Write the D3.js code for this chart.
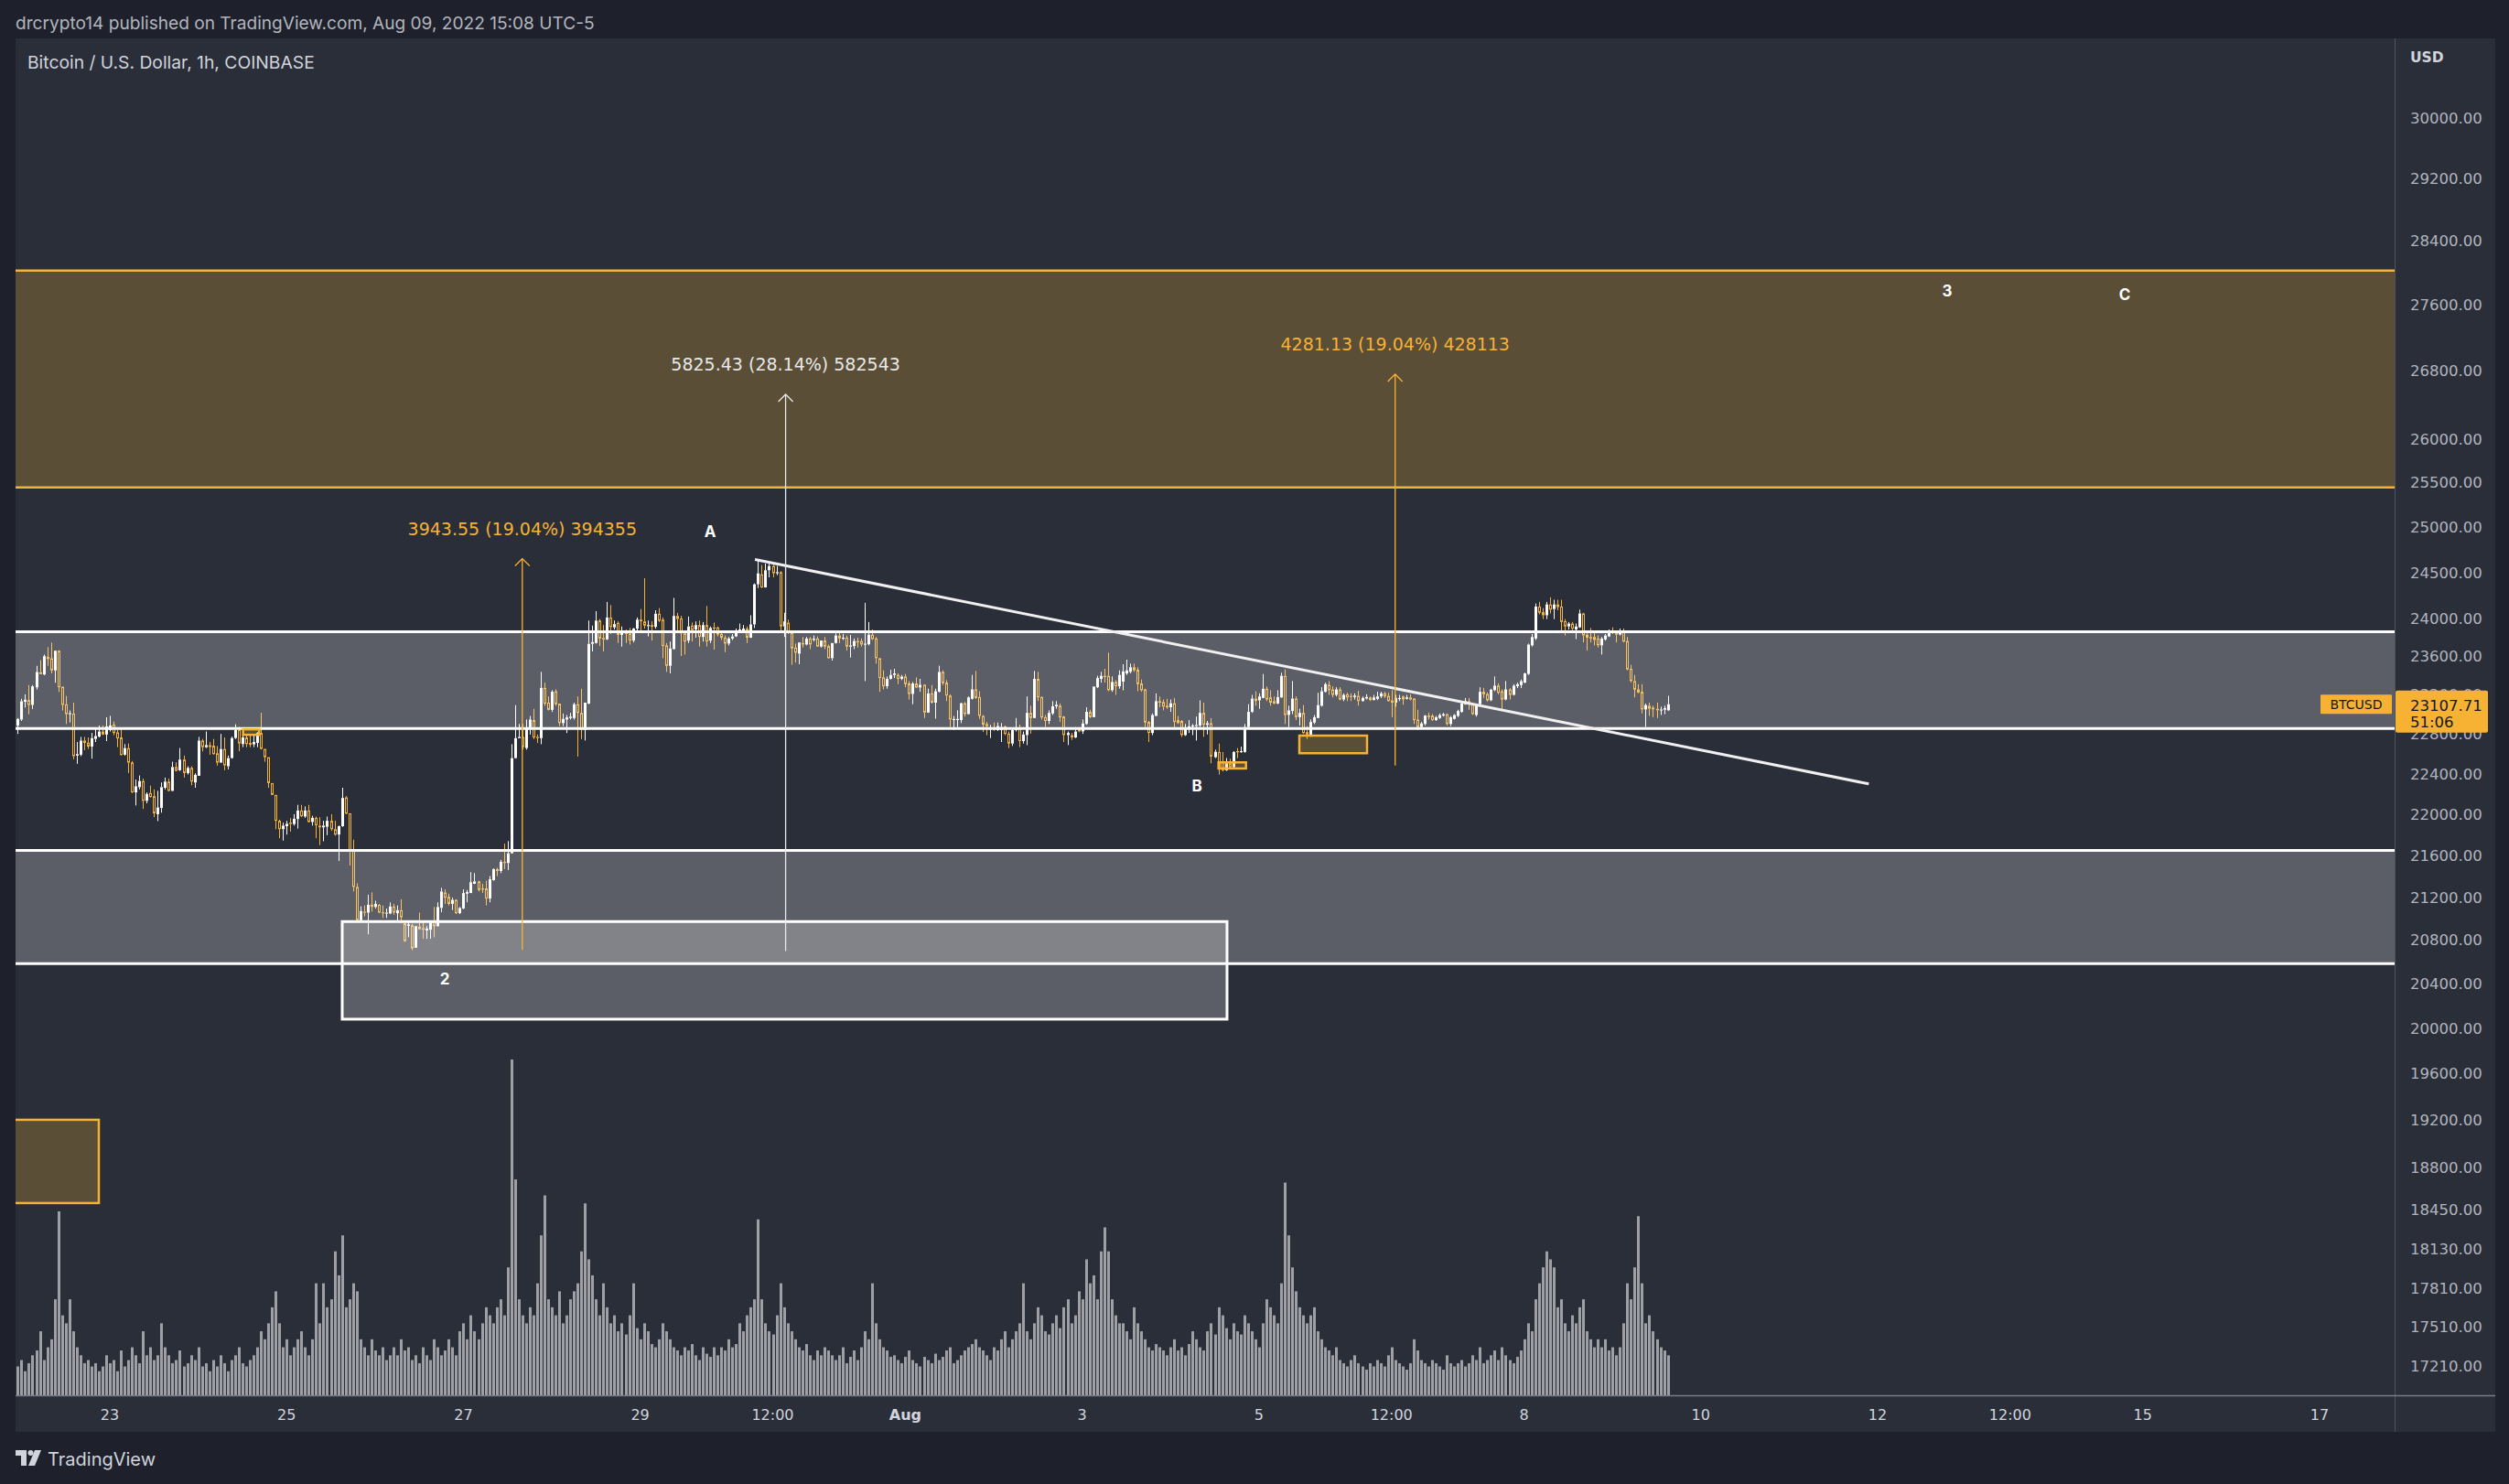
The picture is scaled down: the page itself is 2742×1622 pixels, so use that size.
<!DOCTYPE html>
<html><head><meta charset="utf-8">
<script src="https://cdn.jsdelivr.net/npm/d3@7"></script>
<style>html,body{margin:0;padding:0;background:#1e212b;}svg{display:block}</style>
</head><body>
<svg id="chart" width="2742" height="1622"></svg>
<script>
// ---------------- DATA ----------------
const firstCandle = "2022-07-21T22:00:00Z"; // hourly candles from here
const opens = [22966,22890,22951,23132,23151,23100,23282,23439,23416,23601,23585,23458,23665,23289,23107,23005,23011,22585,22594,22737,22716,22676,22753,22777,22829,22798,22844,22899,22820,22768,22594,22661,22517,22218,22270,22331,22134,22212,22181,22003,22064,22264,22325,22233,22471,22438,22545,22410,22462,22316,22383,22737,22670,22691,22685,22609,22514,22652,22478,22560,22762,22844,22701,22768,22713,22698,22713,22814,22652,22569,22310,22193,21939,21857,21886,21921,21907,21956,22040,21980,22040,21927,21968,21892,21874,21880,21939,21857,21804,21886,22169,22012,21653,21302,20989,21069,21060,21136,21113,21133,21063,21051,21051,21118,21054,21083,20960,20936,20942,20733,20928,20914,20894,20900,20983,20933,21104,21250,21209,21142,21180,21055,21099,21238,21244,21332,21355,21288,21288,21192,21367,21472,21454,21542,21530,21624,22560,22761,22774,22661,22859,22945,22774,22761,23277,23124,23050,23242,23114,22914,22951,22966,22966,23108,23019,22844,23114,23737,23746,23985,23800,23784,24018,23912,23960,23832,23880,23848,23772,23899,23995,23976,23925,23937,23918,24058,23995,23721,23506,23682,24035,24008,23848,23772,23931,23890,23937,23810,23937,23772,23912,23912,23842,23803,23740,23794,23816,23874,23880,23899,23803,23944,24375,24485,24341,24528,24575,24495,24508,23922,23963,23858,23698,23634,23746,23730,23794,23778,23794,23708,23772,23714,23586,23746,23826,23794,23803,23708,23714,23768,23768,23733,23733,23835,23794,23586,23386,23293,23370,23411,23411,23370,23395,23322,23213,23322,23280,23309,23022,23220,23124,23236,23443,23331,23197,22945,22945,22945,23118,23006,23163,23261,23182,22987,22905,22850,22865,22844,22844,22881,22807,22706,22844,22865,22731,22792,23019,22966,23370,23182,22975,22936,23013,23086,23093,22981,22792,22792,22768,22853,22829,22905,23029,22975,23283,23370,23402,23402,23252,23338,23293,23341,23427,23443,23491,23465,23322,23261,22926,22814,22987,23140,23131,23093,23076,23118,22945,22936,22792,22859,22881,22884,22890,23019,22896,22914,22569,22621,22529,22438,22508,22468,22630,22621,22621,22874,23029,23166,23147,23172,23268,23178,23140,23115,23178,23402,22997,23038,23166,22975,23019,22823,22792,22920,22966,23092,23236,23309,23261,23204,23261,23156,23210,23194,23182,23194,23140,23166,23178,23150,23163,23188,23220,23194,23147,23124,23163,23188,23163,23178,23166,22951,22874,22905,22991,22991,22945,22966,22991,23006,22905,22957,22987,23029,23108,23140,23115,22997,23108,23236,23213,23147,23252,23300,23242,23156,23261,23204,23293,23306,23331,23421,23721,23794,24135,24075,24041,24158,24108,24158,24135,23979,23922,23953,23890,23912,24061,23835,23810,23810,23794,23721,23784,23816,23874,23867,23835,23874,23768,23475,23347,23261,23236,23054,23092,23073,23061,23045,23051,23045];
const highs = [23027,22965,23164,23209,23305,23305,23506,23566,23624,23703,23751,23665,23670,23289,23193,23043,23123,22722,22774,22774,22768,22814,22859,22890,22890,22973,22988,22930,22844,22866,22701,22707,22530,22346,22386,22355,22218,22285,22248,22233,22316,22365,22355,22523,22517,22661,22585,22478,22478,22407,22774,22753,22829,22722,22753,22682,22804,22768,22585,22777,22902,22875,22798,22798,22798,22798,22823,23021,22652,22569,22310,22193,21950,21921,21939,21965,22003,22095,22095,22080,22095,21988,21980,21974,21939,21980,22003,21939,21892,22264,22181,22012,21755,21337,21118,21127,21229,21250,21171,21142,21127,21098,21156,21142,21127,21186,20961,20969,20955,20936,21060,20983,20933,20969,21113,21157,21294,21279,21238,21200,21186,21113,21279,21273,21443,21434,21361,21332,21361,21405,21478,21484,21560,21717,21741,22700,23098,22905,22905,22951,22987,23060,22798,23443,23331,23188,23252,23261,23114,23012,22997,23019,23124,23188,23268,23124,23985,23931,24085,24001,23937,24185,24151,23985,23976,23922,23890,23906,23906,24018,24108,24441,23985,23976,24095,24118,24018,23746,23762,24228,24068,24035,23874,24028,23963,23976,23985,23969,24141,23922,23963,23922,23880,23826,23810,23842,23899,23953,23937,23922,24041,24385,24651,24585,24601,24601,24595,24575,24518,24068,23995,23858,23740,23752,23810,23810,23810,23826,23816,23772,23810,23730,23746,23848,23858,23842,23826,23832,23794,23803,23794,24175,23969,23890,23810,23586,23459,23395,23465,23475,23427,23411,23421,23347,23338,23386,23370,23315,23268,23306,23268,23507,23459,23357,23210,22987,23045,23124,23131,23188,23411,23453,23242,22997,22926,22896,22920,22920,22914,22890,22829,22859,22966,22899,22829,23188,23093,23453,23443,23188,22997,23045,23140,23140,23115,22987,22829,22814,22874,22874,22951,23076,23051,23290,23402,23443,23475,23644,23395,23357,23459,23523,23571,23529,23529,23491,23363,23268,22936,23013,23220,23188,23156,23163,23156,23172,22987,22945,22905,22945,22905,22981,23147,23124,22936,22966,22645,22706,22621,22560,22554,22630,22661,22676,22905,23108,23204,23242,23220,23421,23290,23252,23188,23252,23434,23469,23092,23347,23188,23061,23099,22884,22951,22997,23226,23283,23331,23347,23293,23283,23283,23220,23226,23220,23220,23245,23188,23210,23188,23204,23236,23236,23236,23226,23252,23204,23204,23197,23204,23210,23172,23051,22926,22997,23022,23006,22987,23013,23019,23013,22987,23006,23051,23124,23172,23172,23124,23115,23283,23277,23229,23268,23395,23325,23261,23347,23274,23315,23331,23363,23434,23740,23842,24168,24185,24118,24185,24235,24208,24208,24208,24001,23969,23969,23953,24101,24068,23858,23906,23858,23826,23810,23842,23890,23912,23880,23899,23899,23810,23516,23411,23315,23315,23115,23124,23092,23124,23083,23092,23194];
const lows = [22859,22804,22936,23075,23005,23059,23260,23419,23407,23506,23426,23330,23234,23043,22905,22921,22548,22502,22579,22640,22652,22554,22722,22768,22792,22731,22829,22792,22670,22585,22585,22410,22212,22089,22248,22055,22110,22166,21974,21936,22018,22248,22227,22230,22426,22432,22365,22395,22288,22264,22383,22627,22661,22594,22594,22484,22514,22438,22447,22554,22753,22630,22670,22670,22670,22670,22670,22646,22523,22264,22193,21857,21769,21746,21804,21834,21892,21863,21974,21968,21921,21892,21769,21702,21740,21799,21842,21793,21550,21880,22003,21507,21259,20969,20983,21025,20858,21069,21098,21054,21010,21010,21045,21040,20969,20961,20788,20830,20710,20733,20900,20816,20816,20816,20830,20927,21063,21142,21128,21084,21046,21046,21093,21157,21244,21330,21259,21244,21128,21157,21361,21405,21434,21472,21463,21620,22555,22761,22645,22645,22798,22752,22713,22700,23092,23044,23028,23092,22884,22884,22813,22951,22951,22575,22752,22737,23108,23657,23740,23714,23657,23778,23842,23890,23746,23708,23746,23730,23752,23880,23858,23899,23816,23772,23899,23969,23586,23443,23427,23676,23858,23609,23625,23746,23762,23803,23708,23762,23708,23746,23676,23816,23778,23650,23721,23778,23810,23858,23874,23746,23800,23906,24335,24335,24340,24451,24451,24475,23874,23810,23842,23516,23539,23523,23698,23721,23682,23762,23708,23698,23682,23580,23561,23740,23746,23778,23666,23593,23682,23698,23708,23347,23721,23778,23529,23236,23261,23268,23363,23379,23315,23357,23283,23156,23108,23274,23236,22966,23019,23115,22960,23230,23306,23140,22874,22844,22874,22914,22981,23003,23156,23163,22957,22823,22792,22762,22835,22835,22722,22792,22661,22682,22829,22670,22706,22691,22807,22966,23140,22951,22874,22905,22997,23061,22926,22722,22691,22743,22762,22820,22804,22896,22966,22975,23274,23331,23331,23242,23236,23204,23268,23252,23411,23427,23443,23242,23236,22874,22722,22792,22987,23076,23045,23061,23029,22859,22905,22774,22783,22814,22792,22737,22874,22774,22798,22508,22560,22395,22426,22432,22462,22462,22560,22615,22615,22859,23019,23092,23061,23170,23140,23092,23108,23108,23172,22905,22874,23006,22945,22890,22804,22752,22774,22905,22966,23083,23229,23204,23178,23188,23147,23140,23140,23140,23156,23092,23134,23156,23140,23147,23150,23172,23172,23134,22975,23083,23140,23102,23156,23147,22905,22844,22859,22890,22951,22936,22936,22957,22981,22890,22884,22951,22975,23019,23102,23051,22997,22981,23102,23172,23134,23140,23242,23210,23051,23147,23156,23197,23274,23274,23325,23411,23708,23778,24051,24001,24001,24061,24001,24095,23880,23826,23890,23858,23788,23906,23752,23666,23752,23721,23698,23625,23772,23810,23842,23752,23826,23752,23459,23331,23178,23220,23013,22874,22987,22975,22966,22997,23006,23038];
const closes = [22890,22957,23139,23155,23100,23292,23442,23419,23608,23576,23458,23665,23282,23100,23005,23017,22579,22600,22737,22713,22676,22762,22783,22829,22798,22881,22890,22814,22759,22591,22661,22514,22218,22279,22331,22134,22203,22172,22012,22070,22270,22325,22233,22471,22432,22545,22410,22462,22325,22392,22737,22670,22691,22670,22600,22514,22652,22487,22560,22762,22844,22707,22768,22701,22695,22722,22814,22652,22569,22310,22193,21939,21857,21892,21910,21907,21959,22040,21983,22040,21927,21968,21895,21874,21892,21939,21857,21804,21886,22163,22009,21653,21302,20989,21075,21060,21133,21113,21142,21060,21054,21060,21118,21060,21083,21016,20794,20950,20727,20933,20905,20900,20911,20969,20933,21113,21259,21200,21142,21180,21055,21104,21244,21253,21347,21355,21273,21279,21192,21376,21472,21454,21542,21530,21624,22560,22761,22774,22670,22859,22951,22768,22761,23277,23114,23050,23236,23108,22914,22957,22972,22981,23108,23019,22844,23124,23737,23756,23985,23794,23784,24018,23915,23947,23832,23858,23842,23772,23899,23995,23976,23931,23937,23918,24058,23982,23714,23506,23689,24035,24001,23848,23762,23922,23883,23937,23810,23937,23762,23906,23899,23835,23803,23740,23794,23816,23880,23890,23899,23803,23944,24375,24495,24341,24528,24575,24495,24508,23922,23976,23858,23689,23644,23752,23730,23794,23730,23794,23708,23772,23708,23586,23746,23826,23794,23803,23708,23721,23768,23752,23730,23740,23835,23788,23586,23379,23293,23370,23411,23427,23370,23395,23315,23213,23322,23280,23309,23022,23220,23124,23242,23443,23325,23197,22951,22957,22957,23118,23006,23178,23261,23172,22987,22899,22884,22859,22853,22884,22874,22804,22706,22844,22859,22731,22798,23019,22966,23370,23178,22972,22936,23019,23086,23102,22972,22792,22814,22768,22829,22829,22911,23029,22975,23290,23379,23402,23389,23252,23338,23293,23411,23449,23459,23491,23459,23315,23252,22920,22814,22997,23140,23124,23083,23076,23118,22926,22914,22792,22859,22881,22890,22896,23019,22896,22914,22575,22624,22462,22438,22508,22468,22621,22621,22630,22874,23029,23166,23140,23188,23268,23156,23124,23115,23182,23402,22997,23045,23166,22975,23019,22813,22798,22926,22975,23099,23242,23315,23252,23204,23261,23156,23204,23178,23182,23197,23140,23172,23182,23150,23178,23188,23220,23188,23140,23124,23172,23172,23156,23178,23156,22945,22874,22911,22991,22975,22945,22975,22997,23006,22905,22975,22997,23038,23115,23140,23108,23006,23108,23236,23210,23147,23258,23300,23226,23156,23261,23204,23300,23315,23347,23427,23730,23810,24135,24068,24041,24158,24101,24158,24128,23969,23922,23953,23899,23922,24061,23826,23803,23794,23778,23721,23794,23826,23874,23855,23835,23874,23762,23469,23347,23258,23229,23054,23099,23061,23054,23045,23054,23067,23107.71];
const volumes = [525,630,770,525,700,875,980,1400,770,1050,1225,2100,4025,1750,1575,2100,1400,1050,875,700,770,630,700,525,630,875,700,770,525,980,630,770,1050,875,700,1400,875,1050,770,875,1575,1050,875,700,770,980,630,700,875,770,1050,630,700,525,770,630,875,700,525,770,875,1050,700,630,770,875,1050,1400,1225,1575,1925,2275,1575,1050,1225,875,1050,1225,1400,1050,875,1225,2450,1575,2450,1925,2100,3150,2625,3500,1925,2100,2450,2275,1225,1050,875,1225,980,875,1050,770,875,1050,875,1225,980,1050,770,875,700,1050,875,770,1225,1050,875,980,1225,1050,875,1400,1575,1225,1750,1400,1225,1575,1925,1750,1575,1925,2100,1750,2800,7350,4725,2100,1750,1575,1925,1750,2450,3500,4375,2100,1925,1750,2275,1575,1750,2100,2275,2450,3150,4200,2975,2625,2100,1750,2450,1925,1575,1750,1400,1575,1330,1750,2450,1470,1225,1575,1400,1120,1050,1225,1575,1400,1225,1050,980,875,1050,980,1120,875,770,1050,910,840,1050,875,1050,980,1225,1050,1120,1575,1400,1750,1925,2100,3850,2100,1575,1400,1330,1750,2450,1925,1575,1400,1225,1050,980,1120,875,770,980,875,1050,980,875,770,875,1050,700,840,980,770,1050,1400,1225,2450,1575,1225,1050,980,840,875,770,700,840,980,770,700,630,840,770,700,910,770,840,980,1050,700,770,875,980,1050,1120,1225,1050,980,875,770,1050,980,1225,1400,1050,1225,1400,1575,2450,1400,1225,1575,1925,1750,1400,1330,1575,1750,1470,1925,2100,1575,1750,2275,2100,2975,2450,2625,2100,3150,3675,3150,2100,1750,1575,1575,1400,1225,1925,1575,1400,1225,1050,980,1120,1050,980,875,1050,1225,980,1050,875,1120,1400,1225,1050,980,1400,1575,1330,1925,1750,1470,1225,1575,1400,1330,1750,1575,1400,1225,1050,1575,2100,1925,1750,1575,2450,4655,3500,2800,2275,1925,1750,1575,1750,1925,1400,1225,1050,980,875,1050,770,700,630,770,875,700,630,560,700,630,770,700,630,875,1050,770,700,630,560,700,1225,980,770,700,630,770,700,630,560,875,700,630,700,770,630,700,875,770,1050,700,770,875,980,770,1050,875,770,700,840,980,1225,1575,1400,2100,2450,2800,3150,2975,2800,1925,2100,1575,1400,1750,1575,1925,2100,1400,1225,1050,1225,1050,1225,980,1050,875,1050,1575,2450,2100,2800,3920,2450,1575,1750,1400,1225,1050,980,875];

const priceTicks = [30000,29200,28400,27600,26800,26000,25500,25000,24500,24000,23600,23200,22800,22400,22000,21600,21200,20800,20400,20000,19600,19200,18800,18450,18130,17810,17510,17210];
const timeTickDates = ["2022-07-23","2022-07-25","2022-07-27","2022-07-29","2022-07-30T12:00","2022-08-01","2022-08-03","2022-08-05","2022-08-06T12:00","2022-08-08","2022-08-10","2022-08-12","2022-08-13T12:00","2022-08-15","2022-08-17"];
const timeTickLabels = ["23","25","27","29","12:00","Aug","3","5","12:00","8","10","12","12:00","15","17"];

// drawings (price levels / anchors)
const orangeZone = [28030, 25450];
const greyZones = [[23866, 22860], [21652, 20587]];
const whiteBox = {t: ["2022-07-25T15:06", "2022-08-04T15:21"], p: [20976, 20084]};
const orangeBoxes = [
  {t: ["2022-08-04T13:02", "2022-08-04T20:30"], p: [22517, 22456]},
  {t: ["2022-08-05T10:59", "2022-08-06T05:22"], p: [22787, 22609]},
  {t: ["2022-07-24T12:12", "2022-07-24T16:34"], p: [22851, 22795]},
  {t: ["2022-07-19T00:00", "2022-07-22T21:01"], p: [19204, 18505]}
];
const trendLine = {t: ["2022-07-30T07:10", "2022-08-11T21:36"], p: [24646, 22302]};
const measures = [
  {t: "2022-07-27T16:00", from: 20712, to: 24655.55, label: "3943.55 (19.04%) 394355", color: "orange"},
  {t: "2022-07-30T15:30", from: 20701.6, to: 26527, label: "5825.43 (28.14%) 582543", color: "white"},
  {t: "2022-08-06T13:00", from: 22485, to: 26766, label: "4281.13 (19.04%) 428113", color: "orange"}
];
const waveLabels = [
  {t: "2022-07-29T19:00", p: 24955, text: "A"},
  {t: "2022-08-04T07:12", p: 22282, text: "B"},
  {t: "2022-07-26T18:56", p: 20447, text: "2"},
  {t: "2022-08-12T18:54", p: 27777, text: "3"},
  {t: "2022-08-14T19:06", p: 27732, text: "C"}
];
const lastPrice = 23107.71;
const countdown = "51:06";
const symbol = "BTCUSD";

// ---------------- LAYOUT ----------------
const W = 2742, H = 1622;
const plot = {l: 17, r: 2617, t: 42, b: 1525};
const axisR = 2727, axisB = 1565;
const ORANGE = "#f7b234", WHITE = "#ffffff", TXT = "#d1d4dc", TXT2 = "#b2b5be";
const utc = s => new Date(s.length <= 10 ? s + "T00:00:00Z" : s + ":00Z");

const svg = d3.select("#chart");
const x = d3.scaleUtc().domain([utc("2022-07-23"), utc("2022-08-17")]).range([120, 2535]);
const y = d3.scaleLog().domain([30000, 17210]).range([129, 1493]);
const yv = d3.scaleLinear().domain([0, 7350]).range([plot.b, 1158]);

const t0 = new Date(firstCandle).getTime();
const candles = opens.map((o, i) => ({t: new Date(t0 + i * 3600e3), o, h: highs[i], l: lows[i], c: closes[i], v: volumes[i]}));

// backgrounds
svg.append("rect").attr("width", W).attr("height", H).attr("fill", "#1e212b");
svg.append("rect").attr("x", plot.l).attr("y", plot.t).attr("width", axisR - plot.l).attr("height", axisB - plot.t).attr("fill", "#2a2e39");

svg.append("defs").append("clipPath").attr("id", "clip")
  .append("rect").attr("x", plot.l).attr("y", plot.t).attr("width", plot.r - plot.l).attr("height", plot.b - plot.t);

const g = svg.append("g").attr("clip-path", "url(#clip)");

// volume
const cx = d => Math.round(x(d.t));
g.append("g").selectAll("rect").data(candles).join("rect")
  .attr("x", d => cx(d) - 1).attr("width", 3)
  .attr("y", d => yv(d.v)).attr("height", d => plot.b - yv(d.v))
  .attr("fill", "rgba(255,255,255,0.55)");

// candles
const gc = g.append("g");
gc.selectAll("path.wick").data(candles).join("path")
  .attr("d", d => {
    const X = cx(d) + 0.5, top = y(Math.max(d.o, d.c)), bot = y(Math.min(d.o, d.c));
    return `M${X},${y(d.h)}V${top}M${X},${bot}V${y(d.l)}`;
  })
  .attr("stroke", d => d.c >= d.o ? WHITE : ORANGE).attr("stroke-width", 1).attr("fill", "none");
gc.selectAll("rect.up").data(candles.filter(d => d.c >= d.o)).join("rect")
  .attr("x", d => cx(d) - 1).attr("width", 3)
  .attr("y", d => y(d.c)).attr("height", d => Math.max(1.2, y(d.o) - y(d.c)))
  .attr("fill", WHITE);
gc.selectAll("rect.dn").data(candles.filter(d => d.c < d.o)).join("rect")
  .attr("x", d => cx(d) - 0.5).attr("width", 2)
  .attr("y", d => y(d.o) + 0.5).attr("height", d => Math.max(0.3, y(d.c) - y(d.o) - 1))
  .attr("fill", "none").attr("stroke", ORANGE).attr("stroke-width", 1);

// zones
const gz = g.append("g");
gz.append("rect").attr("x", plot.l).attr("width", plot.r - plot.l)
  .attr("y", y(orangeZone[0])).attr("height", y(orangeZone[1]) - y(orangeZone[0]))
  .attr("fill", "rgba(247,178,52,0.24)");
orangeZone.forEach(p => gz.append("line").attr("x1", plot.l).attr("x2", plot.r).attr("y1", y(p)).attr("y2", y(p)).attr("stroke", ORANGE).attr("stroke-width", 2.5));
greyZones.forEach(z => {
  gz.append("rect").attr("x", plot.l).attr("width", plot.r - plot.l)
    .attr("y", y(z[0])).attr("height", y(z[1]) - y(z[0])).attr("fill", "rgba(255,255,255,0.23)");
  z.forEach(p => gz.append("line").attr("x1", plot.l).attr("x2", plot.r).attr("y1", y(p)).attr("y2", y(p)).attr("stroke", WHITE).attr("stroke-width", 3));
});
gz.append("rect")
  .attr("x", x(utc(whiteBox.t[0]))).attr("width", x(utc(whiteBox.t[1])) - x(utc(whiteBox.t[0])))
  .attr("y", y(whiteBox.p[0])).attr("height", y(whiteBox.p[1]) - y(whiteBox.p[0]))
  .attr("fill", "rgba(255,255,255,0.23)").attr("stroke", WHITE).attr("stroke-width", 3);
orangeBoxes.forEach(b => gz.append("rect")
  .attr("x", x(utc(b.t[0]))).attr("width", x(utc(b.t[1])) - x(utc(b.t[0])))
  .attr("y", y(b.p[0])).attr("height", y(b.p[1]) - y(b.p[0]))
  .attr("fill", "rgba(247,178,52,0.24)").attr("stroke", ORANGE).attr("stroke-width", 2.5));

// trend line
gz.append("line")
  .attr("x1", x(utc(trendLine.t[0]))).attr("y1", y(trendLine.p[0]))
  .attr("x2", x(utc(trendLine.t[1]))).attr("y2", y(trendLine.p[1]))
  .attr("stroke", "#f0f0f0").attr("stroke-width", 3);

// measures
measures.forEach(m => {
  const col = m.color === "orange" ? ORANGE : "#e8e8e8";
  const X = x(utc(m.t)), y1 = y(m.from), y2 = y(m.to);
  gz.append("line").attr("x1", X).attr("x2", X).attr("y1", y1).attr("y2", y2).attr("stroke", col).attr("stroke-width", 1.3);
  gz.append("path").attr("d", `M${X - 8},${y2 + 8}L${X},${y2}L${X + 8},${y2 + 8}`).attr("stroke", col).attr("stroke-width", 1.3).attr("fill", "none");
  gz.append("text").attr("x", X).attr("y", y2 - 33).attr("text-anchor", "middle").attr("dominant-baseline", "central")
    .attr("fill", col).attr("font-family", "DejaVu Sans, sans-serif").attr("font-size", 19).text(m.label);
});
waveLabels.forEach(w => gz.append("text").attr("x", x(utc(w.t))).attr("y", y(w.p))
  .attr("text-anchor", "middle").attr("dominant-baseline", "central")
  .attr("fill", WHITE).attr("font-family", "Inter, sans-serif").attr("font-weight", 700).attr("font-size", 17).text(w.text));

// axes frame
svg.append("line").attr("x1", plot.r + 0.5).attr("x2", plot.r + 0.5).attr("y1", plot.t).attr("y2", axisB).attr("stroke", "#50535e").attr("stroke-width", 1);
svg.append("line").attr("x1", plot.l).attr("x2", axisR).attr("y1", plot.b + 0.5).attr("y2", plot.b + 0.5).attr("stroke", "#787b86").attr("stroke-width", 1.5);

// y axis labels
const yAxis = svg.append("g").attr("font-family", "DejaVu Sans, sans-serif").attr("font-size", 16.5).attr("fill", TXT2);
yAxis.selectAll("text").data(priceTicks).join("text")
  .attr("x", 2634).attr("y", d => y(d)).attr("dominant-baseline", "central").text(d => d.toFixed(2));
svg.append("text").attr("x", 2634).attr("y", 63).attr("dominant-baseline", "central")
  .attr("font-family", "DejaVu Sans, sans-serif").attr("font-size", 15.5).attr("font-weight", 700).attr("fill", TXT).text("USD");

// x axis labels
svg.append("g").attr("font-family", "DejaVu Sans, sans-serif").attr("font-size", 16).attr("fill", TXT)
  .selectAll("text").data(timeTickDates).join("text")
  .attr("x", d => x(utc(d))).attr("y", 1546).attr("text-anchor", "middle").attr("dominant-baseline", "central")
  .attr("font-weight", (d, i) => timeTickLabels[i] === "Aug" ? 700 : 400)
  .text((d, i) => timeTickLabels[i]);

// last price label
const yl = y(lastPrice);
svg.append("rect").attr("x", 2536).attr("y", yl - 10.5).attr("width", 78).attr("height", 21).attr("fill", ORANGE).attr("rx", 1);
svg.append("text").attr("x", 2575).attr("y", yl).attr("text-anchor", "middle").attr("dominant-baseline", "central")
  .attr("font-family", "DejaVu Sans, sans-serif").attr("font-size", 14).attr("fill", "#131722").text(symbol);
svg.append("rect").attr("x", 2618).attr("y", yl - 15).attr("width", 101).attr("height", 46).attr("fill", ORANGE).attr("rx", 2);
svg.append("text").attr("x", 2634).attr("y", yl + 1.5).attr("dominant-baseline", "central")
  .attr("font-family", "DejaVu Sans, sans-serif").attr("font-size", 16.5).attr("fill", "#131722").text(lastPrice.toFixed(2));
svg.append("text").attr("x", 2634).attr("y", yl + 20).attr("dominant-baseline", "central")
  .attr("font-family", "DejaVu Sans, sans-serif").attr("font-size", 16.5).attr("fill", "#131722").text(countdown);

// header
svg.append("text").attr("x", 17).attr("y", 25).attr("dominant-baseline", "central")
  .attr("font-family", "Inter, sans-serif").attr("font-size", 19.1).attr("fill", TXT2)
  .text("drcrypto14 published on TradingView.com, Aug 09, 2022 15:08 UTC-5");
svg.append("text").attr("x", 30).attr("y", 68).attr("dominant-baseline", "central")
  .attr("font-family", "Inter, sans-serif").attr("font-size", 19.3).attr("fill", TXT)
  .text("Bitcoin / U.S. Dollar, 1h, COINBASE");

// TradingView logo
const logo = svg.append("g").attr("transform", "translate(17,1585)").attr("fill", TXT);
logo.append("path").attr("d", "M0,0H12V17H6V6H0Z");
logo.append("circle").attr("cx", 16.5).attr("cy", 3).attr("r", 3);
logo.append("path").attr("d", "M21,0H28L21,17H14Z");
svg.append("text").attr("x", 52).attr("y", 1595).attr("dominant-baseline", "central")
  .attr("font-family", "Inter, sans-serif").attr("font-size", 20).attr("fill", TXT).text("TradingView");
</script>
</body></html>
